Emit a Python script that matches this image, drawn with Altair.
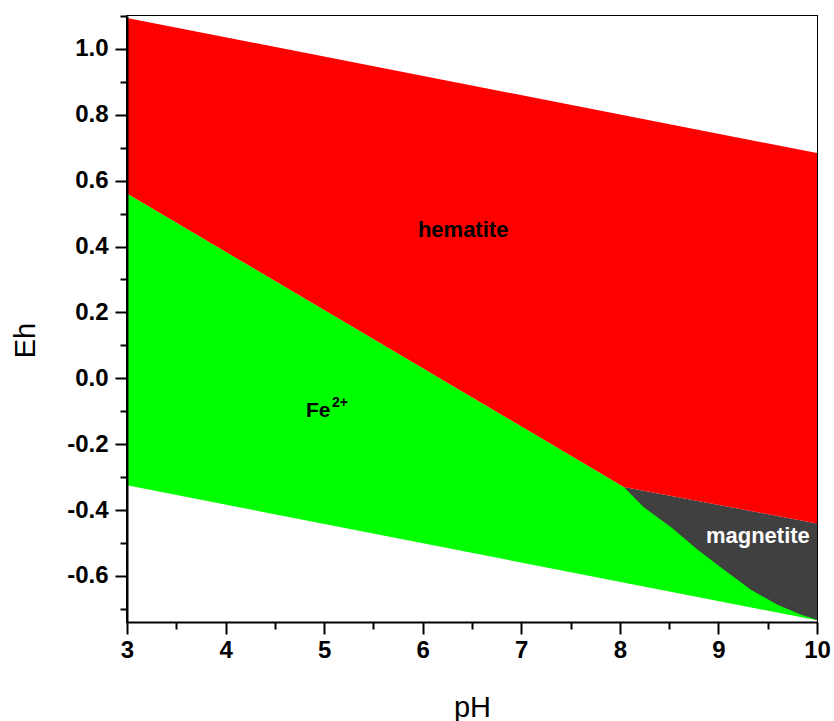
import altair as alt
import pandas as pd

# ---- data (Eh-pH diagram of Fe) ----
X_MIN, X_MAX = 3.0, 10.0
Y_MIN, Y_MAX = -0.74, 1.10

ph_water = [3.0, 10.0]
eh_water_upper = [1.094, 0.684]
eh_water_lower = [-0.325, -0.735]

ph_hem_base = [3.0, 8.04, 10.0]
eh_hem_base = [0.561, -0.330, -0.441]

ph_fe_top = [3.0, 8.04, 8.24, 8.52, 8.79, 9.06, 9.33, 9.60, 9.84, 9.97, 10.0]
eh_fe_top = [0.561, -0.330, -0.391, -0.452, -0.521, -0.582, -0.642, -0.688, -0.718, -0.730, -0.735]

ph_mag_top = [8.04, 10.0]
eh_mag_top = [-0.330, -0.441]

x_major = [3, 4, 5, 6, 7, 8, 9, 10]
x_minor = [3.5, 4.5, 5.5, 6.5, 7.5, 8.5, 9.5]
y_major = [-0.6, -0.4, -0.2, 0.0, 0.2, 0.4, 0.6, 0.8, 1.0]
y_minor = [-0.7, -0.5, -0.3, -0.1, 0.1, 0.3, 0.5, 0.7, 0.9, 1.1]

label_text = ["hematite", "magnetite"]
label_ph = [6.41, 9.40]
label_eh = [0.428, -0.501]
fe_ph, fe_eh = [4.816], [-0.118]
sup_ph, sup_eh = [5.08], [-0.088]

FONT = "Liberation Sans"
W, H = 690, 606

xs = alt.Scale(domain=[X_MIN, X_MAX], nice=False, zero=False)
ys = alt.Scale(domain=[Y_MIN, Y_MAX], nice=False, zero=False)

common_axis = dict(
    domainColor="black", domainWidth=2, tickColor="black", tickWidth=2,
    labelFont=FONT, labelFontWeight="bold", labelColor="black",
    titleFont=FONT, titleFontWeight="normal", titleColor="black",
    grid=False, zindex=1,
)
minor_common = {k: v for k, v in common_axis.items() if not k.startswith("domain")}

x_axis_major = alt.Axis(
    orient="bottom", values=x_major, format="d", tickSize=12, labelFontSize=24,
    labelPadding=4, title="pH", titleFontSize=29, titleBaseline="alphabetic",
    titleY=94, labelFlush=False, **common_axis)
y_axis_major = alt.Axis(
    orient="left", values=y_major, format=".1f", tickSize=12, labelFontSize=24,
    labelPadding=7, labelExpr="replace(datum.label, '\u2212', '-')",
    title="Eh", titleFontSize=29, titleBaseline="middle",
    titleX=-102, titleY=324, titleAngle=-90, labelFlush=False, **common_axis)
x_axis_minor = alt.Axis(
    orient="bottom", values=x_minor, tickSize=7, labels=False, title=None,
    domain=False, **minor_common)
y_axis_minor = alt.Axis(
    orient="left", values=y_minor, tickSize=7, labels=False, title=None,
    domain=False, **minor_common)


def df(ph, eh):
    return pd.DataFrame({"ph": ph, "eh": eh})


def area(d, color, y2val, xaxis=None, yaxis=None):
    return alt.Chart(d).mark_area(color=color, clip=True, interpolate="linear").encode(
        x=alt.X("ph:Q", scale=xs, axis=xaxis),
        y=alt.Y("eh:Q", scale=ys, axis=yaxis),
        y2=alt.datum(y2val),
    )


mag = area(df(ph_mag_top, eh_mag_top), "#404040", Y_MIN, x_axis_major, y_axis_major)
fe = area(df(ph_fe_top, eh_fe_top), "#00FF00", Y_MIN)
hem = area(df(ph_hem_base, eh_hem_base), "#FF0000", Y_MAX)
white_up = area(df(ph_water, eh_water_upper), "white", Y_MAX)
white_lo = area(df(ph_water, eh_water_lower), "white", Y_MIN)

minor = alt.Chart(df(ph_water, eh_water_upper)).mark_point(opacity=0).encode(
    x=alt.X("ph:Q", scale=xs, axis=x_axis_minor),
    y=alt.Y("eh:Q", scale=ys, axis=y_axis_minor),
)

lab_df = pd.DataFrame({"ph": label_ph, "eh": label_eh, "t": label_text,
                       "c": ["black", "white"]})
labels = alt.Chart(lab_df).mark_text(
    font=FONT, fontWeight="bold", fontSize=22, align="center", baseline="alphabetic"
).encode(
    x=alt.X("ph:Q", scale=xs, axis=None),
    y=alt.Y("eh:Q", scale=ys, axis=None),
    text="t:N",
    color=alt.Color("c:N", scale=None),
)

fe_lab = alt.Chart(pd.DataFrame({"ph": fe_ph, "eh": fe_eh, "t": ["Fe"]})).mark_text(
    font=FONT, fontWeight="bold", fontSize=21, align="left", baseline="alphabetic",
    color="black"
).encode(x=alt.X("ph:Q", scale=xs, axis=None), y=alt.Y("eh:Q", scale=ys, axis=None), text="t:N")

sup_lab = alt.Chart(pd.DataFrame({"ph": sup_ph, "eh": sup_eh, "t": ["2+"]})).mark_text(
    font=FONT, fontWeight="bold", fontSize=14, align="left", baseline="alphabetic",
    color="black"
).encode(x=alt.X("ph:Q", scale=xs, axis=None), y=alt.Y("eh:Q", scale=ys, axis=None), text="t:N")

chart = alt.layer(
    mag, fe, hem, white_up, white_lo, minor, labels, fe_lab, sup_lab
).resolve_axis(
    x="independent", y="independent"
).properties(
    width=W, height=H,
    autosize=alt.AutoSizeParams(type="none"),
    padding={"left": 127, "top": 16, "right": 17, "bottom": 99},
    background="white",
).configure_view(
    stroke="black", strokeWidth=2
)

chart.save("out.html", embed_options={"renderer": "svg", "actions": False})
